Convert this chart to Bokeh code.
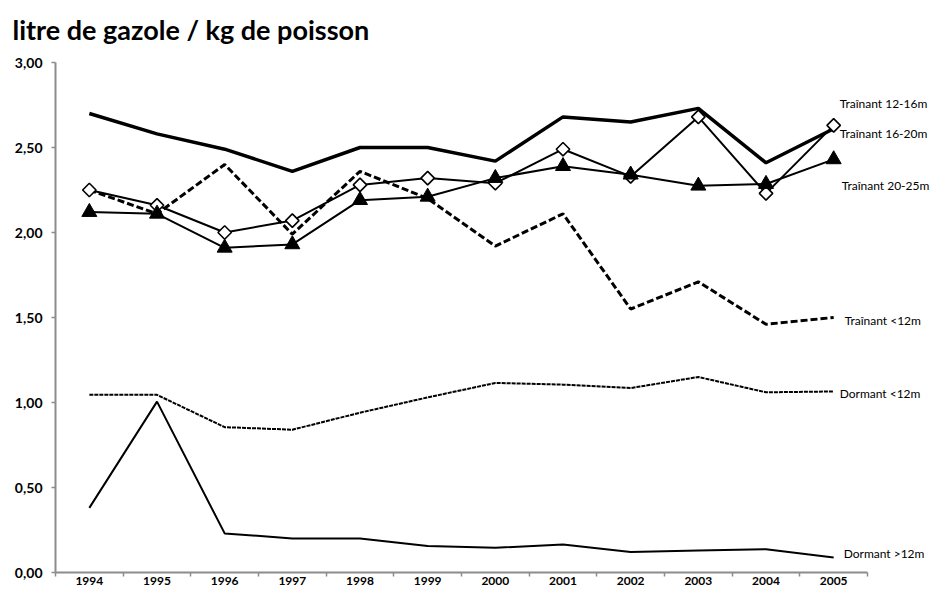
from math import pi

from bokeh.plotting import figure
from bokeh.models import Range1d, FixedTicker, Label
from bokeh.embed import file_html
from bokeh.resources import INLINE

# ---- data -------------------------------------------------------------
years = [1994, 1995, 1996, 1997, 1998, 1999, 2000, 2001, 2002, 2003, 2004, 2005]

trainant_12_16 = [2.70, 2.58, 2.49, 2.36, 2.50, 2.50, 2.42, 2.68, 2.65, 2.73, 2.41, 2.61]
trainant_16_20 = [2.25, 2.16, 2.00, 2.07, 2.28, 2.32, 2.29, 2.49, 2.33, 2.68, 2.23, 2.63]
trainant_20_25 = [2.12, 2.11, 1.91, 1.93, 2.19, 2.21, 2.32, 2.39, 2.34, 2.275, 2.285, 2.43]
trainant_lt12 = [2.25, 2.11, 2.40, 1.99, 2.36, 2.20, 1.92, 2.11, 1.55, 1.71, 1.46, 1.50]
dormant_lt12 = [1.045, 1.045, 0.855, 0.84, 0.94, 1.03, 1.115, 1.105, 1.085, 1.15, 1.06, 1.065]
dormant_gt12 = [0.38, 1.005, 0.23, 0.20, 0.20, 0.156, 0.145, 0.165, 0.12, 0.13, 0.137, 0.088]

y_ticks = [0.0, 0.5, 1.0, 1.5, 2.0, 2.5, 3.0]
y_tick_labels = ["0,00", "0,50", "1,00", "1,50", "2,00", "2,50", "3,00"]

title_text = "litre de gazole / kg de poisson"

# ---- geometry ---------------------------------------------------------
W, H = 931, 587
LEFT, TOP = 55, 62            # axis corner (x axis start, y axis top)
X_AXIS_PX = 812               # drawn length of the x axis
Y_AXIS_PX = 510               # drawn length of the y axis

x0, x1 = years[0] - 0.5, years[-1] + 0.5
px_per_year = X_AXIS_PX / (x1 - x0)
y0, y1 = y_ticks[0], y_ticks[-1]
px_per_unit = Y_AXIS_PX / (y1 - y0)

# the frame covers the whole canvas; axes are pinned at the data corner
x_start = x0 - LEFT / px_per_year
x_end = x0 + (W - LEFT) / px_per_year
y_start = y1 - (H - TOP) / px_per_unit
y_end = y1 + TOP / px_per_unit

AXIS_GREY = "#8c8c8c"
FONT = "Lato"

p = figure(
    width=W, height=H,
    x_range=Range1d(x_start, x_end),
    y_range=Range1d(y_start, y_end),
    output_backend="svg", toolbar_location=None,
    min_border_left=0, min_border_right=0, min_border_top=0, min_border_bottom=0,
)
p.outline_line_color = None
p.xgrid.grid_line_color = None
p.ygrid.grid_line_color = None
p.background_fill_color = "white"
p.border_fill_color = "white"

# x axis: at y = 0, labels at year centres, ticks between categories
xa = p.xaxis[0]
xa.fixed_location = y0
xa.bounds = (x0, x1)
xa.ticker = FixedTicker(ticks=years, minor_ticks=[y - 0.5 for y in years] + [x1])
xa.major_label_overrides = {y: str(y) for y in years}
xa.major_tick_in = 0
xa.major_tick_out = 0
xa.minor_tick_in = 0
xa.minor_tick_out = 4
xa.minor_tick_line_color = AXIS_GREY
xa.minor_tick_line_width = 1.5
xa.axis_line_color = AXIS_GREY
xa.axis_line_width = 2
xa.major_label_text_font = FONT
xa.major_label_text_font_style = "bold"
xa.major_label_text_font_size = "12px"
xa.major_label_text_color = "black"
xa.major_label_standoff = 0

# y axis: at the first category edge
ya = p.yaxis[0]
ya.fixed_location = x0
ya.bounds = (y0, y1)
ya.ticker = FixedTicker(ticks=y_ticks, minor_ticks=[])
ya.major_label_overrides = {t: l for t, l in zip(y_ticks, y_tick_labels)}
ya.major_tick_in = 0
ya.major_tick_out = 4
ya.major_tick_line_color = AXIS_GREY
ya.major_tick_line_width = 1.5
ya.minor_tick_line_color = None
ya.axis_line_color = AXIS_GREY
ya.axis_line_width = 2
ya.major_label_text_font = FONT
ya.major_label_text_font_style = "bold"
ya.major_label_text_font_size = "14px"
ya.major_label_text_color = "black"
ya.major_label_standoff = 9

# title
p.add_layout(Label(x=x0, y=y1, x_offset=-43, y_offset=33, text=title_text,
                   text_font=FONT, text_font_style="bold", text_font_size="27px",
                   text_color="black", text_align="left", text_baseline="alphabetic"))

# ---- series -----------------------------------------------------------
p.line(years, trainant_12_16, line_color="black", line_width=3.5)
p.line(years, trainant_lt12, line_color="black", line_width=3, line_dash="7 3")
p.line(years, dormant_lt12, line_color="black", line_width=2, line_dash="4 1")
p.line(years, dormant_gt12, line_color="black", line_width=2)
p.line(years, trainant_16_20, line_color="black", line_width=2)
p.line(years, trainant_20_25, line_color="black", line_width=2)
p.scatter(years, trainant_16_20, marker="square", angle=pi / 4, size=9.5,
          fill_color="white", line_color="black", line_width=1.6)
p.scatter(years, trainant_20_25, marker="triangle", size=15,
          fill_color="black", line_color="black")

# ---- end labels -------------------------------------------------------
labels = [
    ("Traînant 12-16m", trainant_12_16, 6, 25),
    ("Traînant 16-20m", trainant_16_20, 6, -8),
    ("Traînant 20-25m", trainant_20_25, 8, -26),
    ("Traînant <12m", trainant_lt12, 11, -3),
    ("Dormant <12m", dormant_lt12, 6, -2),
    ("Dormant >12m", dormant_gt12, 10, 4),
]
for text, series, dx, dy in labels:
    p.add_layout(Label(x=years[-1], y=series[-1], x_offset=dx, y_offset=dy, text=text,
                       text_font=FONT, text_font_size="12px", text_color="black",
                       text_align="left", text_baseline="middle"))

open("out.html", "w").write(file_html(p, INLINE))
